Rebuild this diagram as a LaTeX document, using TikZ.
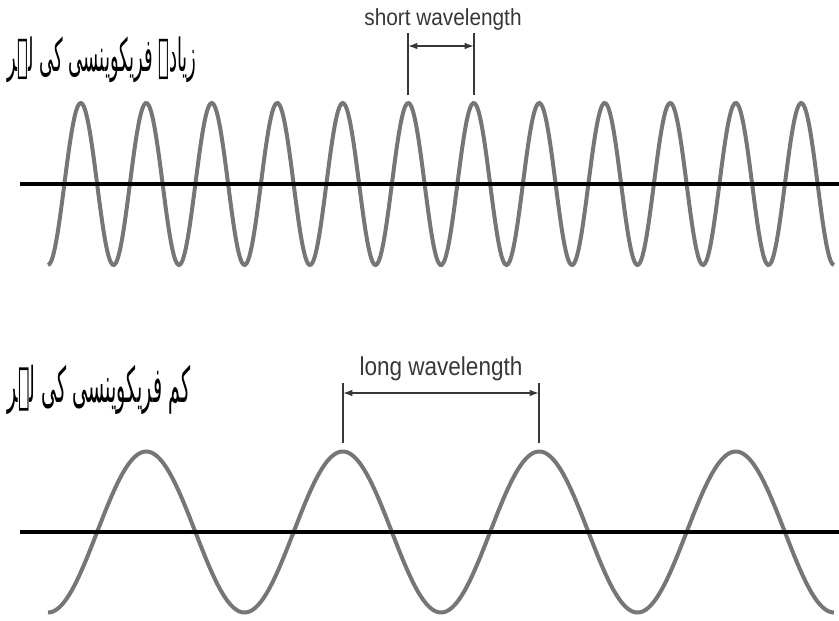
\documentclass[tikz,border=0pt]{standalone}
\usepackage{fontspec}
\setmainfont{Liberation Sans}
\newfontfamily\urdufont[Script=Arabic]{DejaVu Sans}
\TeXXeTstate=1
\usetikzlibrary{arrows.meta}

\definecolor{wavegrey}{RGB}{118,118,118}
\definecolor{markgrey}{RGB}{55,55,55}

\tikzset{every picture/.style={line width=0.75pt}}
\tikzset{
  wave/.style={color=wavegrey, line width=3pt},
  axisline/.style={color=black, line width=2.6pt},
  marker/.style={color=markgrey, line width=1.1pt},
  span/.style={color=markgrey, line width=1.1pt, {Latex[length=7pt,width=5pt]}-{Latex[length=7pt,width=5pt]}},
  label/.style={font=\fontsize{15.6}{18}\selectfont, text=markgrey, anchor=base, inner sep=0pt},
  urdu/.style={anchor=center, inner sep=0pt}
}

\begin{document}
\begin{tikzpicture}[x=0.75pt,y=0.75pt,yscale=-1,xscale=1]
\useasboundingbox (0,0) rectangle (839,621);

%% ---------------- high frequency ----------------
\coordinate (hiL) at (20,184);
\coordinate (hiR) at (839,184);
\draw [wave] plot [domain=48:834, samples=500, smooth] (\x, {184 + 81*cos(5.4962*(\x-48))});
\draw [axisline] (hiL) -- (hiR);

\coordinate (hiA) at (408,95);
\coordinate (hiB) at (474,95);
\coordinate (hiAt) at (408,33);
\coordinate (hiBt) at (474,33);
\coordinate (hiAm) at (408,46);
\coordinate (hiBm) at (474,46);
\draw [marker] (hiA) -- (hiAt);
\draw [marker] (hiB) -- (hiBt);
\draw [span] (hiAm) -- (hiBm);

%% ---------------- low frequency ----------------
\coordinate (loL) at (20,532);
\coordinate (loR) at (839,532);
\draw [wave] plot [domain=48:834, samples=500, smooth] (\x, {532 + 80.5*cos(1.83206*(\x-48))});
\draw [axisline] (loL) -- (loR);

\coordinate (loA) at (343,443);
\coordinate (loB) at (539,443);
\coordinate (loAt) at (343,383);
\coordinate (loBt) at (539,383);
\coordinate (loAm) at (343,393);
\coordinate (loBm) at (539,393);
\draw [marker] (loA) -- (loAt);
\draw [marker] (loB) -- (loBt);
\draw [span] (loAm) -- (loBm);

%% ---------------- text ----------------
\node [label] (shortlbl) at (443,25) {\scalebox{1}[1.12]{short wavelength}};
\node [label, font=\fontsize{16.9}{20}\selectfont] (longlbl) at (441,375) {\scalebox{1}[1.15]{long wavelength}};

\node [urdu] (hiurdu) at (102,60) {\resizebox{142pt}{26pt}{\urdufont\beginR زیادہ فریکوینسی کی لہر\endR}};
\node [urdu] (lourdu) at (99,390) {\resizebox{137pt}{28pt}{\urdufont\beginR کم فریکوینسی کی لہر\endR}};

\end{tikzpicture}
\end{document}
